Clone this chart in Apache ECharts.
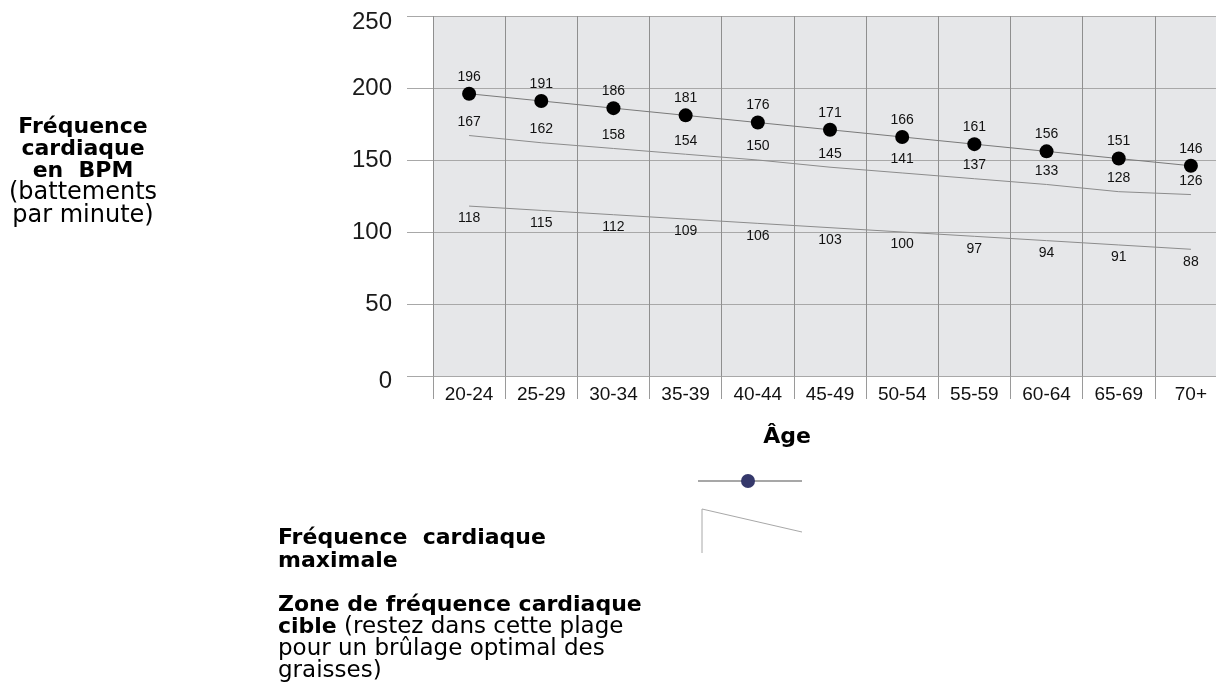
<!DOCTYPE html>
<html>
<head>
<meta charset="utf-8">
<script src="https://cdn.jsdelivr.net/npm/echarts@6/dist/echarts.min.js"></script>
<style>
html,body{margin:0;padding:0;background:#fff;}
#chart{width:1216px;height:683px;}
</style>
</head>
<body>
<div id="chart"></div>
<script>
const ageGroups = ['20-24','25-29','30-34','35-39','40-44','45-49','50-54','55-59','60-64','65-69','70+'];
const maxHeartRate = [196,191,186,181,176,171,166,161,156,151,146];
const targetUpper = [167,162,158,154,150,145,141,137,133,128,126];
const targetLower = [118,115,112,109,106,103,100,97,94,91,88];
const yTicks = [0,50,100,150,200,250];

const SANS = "'Liberation Sans', Arial, sans-serif";
const DJV = "'DejaVu Sans', sans-serif";

const chart = echarts.init(document.getElementById('chart'), null, {renderer:'canvas'});

function txt(text, x, y, bold, size, align) {
  return {
    type: 'text', x: x, y: y, silent: true,
    style: {
      text: text,
      fontFamily: DJV, fontSize: size, fontWeight: bold ? 'bold' : 'normal',
      fill: '#000', textAlign: align || 'left', textVerticalAlign: 'middle'
    }
  };
}

const option = {
  backgroundColor: '#ffffff',
  animation: false,
  grid: {
    left: 433, top: 16, right: -11, bottom: 307,
    show: true, backgroundColor: '#e6e7e9', borderWidth: 0,
    outerBoundsMode: 'none', containLabel: false
  },
  xAxis: {
    type: 'category',
    data: ageGroups,
    boundaryGap: true,
    axisLine: {show: false},
    axisTick: {show: true, interval: 0, length: 23, lineStyle: {color: '#9a9a9a', width: 1}},
    axisLabel: {interval: 0, margin: 9, fontFamily: SANS, fontSize: 19, color: '#111'},
    splitLine: {show: true, interval: 0, lineStyle: {color: '#8f8f8f', width: 1}}
  },
  yAxis: {
    type: 'value',
    min: yTicks[0], max: yTicks[yTicks.length - 1], interval: 50,
    axisLine: {show: false},
    axisTick: {show: true, length: 26, lineStyle: {color: '#a8a8a8', width: 1}},
    axisLabel: {
      margin: 41, fontFamily: SANS, fontSize: 24, color: '#1a1a1a',
      formatter: function (v) {
        if (v === 0) return '{lo|' + v + '}';
        if (v === 250) return '{hi|' + v + '}';
        return String(v);
      },
      rich: {
        lo: {fontFamily: SANS, fontSize: 24, color: '#1a1a1a', padding: [10, 0, 0, 0]},
        hi: {fontFamily: SANS, fontSize: 24, color: '#1a1a1a', padding: [13, 0, 0, 0]}
      }
    },
    splitLine: {show: true, lineStyle: {color: '#a8a8a8', width: 1}}
  },
  series: [
    {
      name: 'Fréquence cardiaque maximale',
      type: 'line',
      data: maxHeartRate,
      symbol: 'circle', symbolSize: 14,
      itemStyle: {color: '#000'},
      lineStyle: {color: '#7a7a7a', width: 1},
      label: {show: true, position: 'top', distance: 3, fontFamily: SANS, fontSize: 14, color: '#111'},
      z: 5
    },
    {
      name: 'Zone cible haute',
      type: 'line',
      data: targetUpper,
      symbol: 'circle', symbolSize: 1,
      itemStyle: {color: 'rgba(0,0,0,0)'},
      lineStyle: {color: '#8c8c8c', width: 1},
      label: {show: true, position: 'top', distance: 6, fontFamily: SANS, fontSize: 14, color: '#111'}
    },
    {
      name: 'Zone cible basse',
      type: 'line',
      data: targetLower,
      symbol: 'circle', symbolSize: 1,
      itemStyle: {color: 'rgba(0,0,0,0)'},
      lineStyle: {color: '#8c8c8c', width: 1},
      label: {show: true, position: 'bottom', distance: 5, fontFamily: SANS, fontSize: 14, color: '#111'}
    }
  ],
  graphic: [
    txt('Fréquence', 83, 127, true, 22, 'center'),
    txt('cardiaque', 83, 149, true, 22, 'center'),
    txt('en  BPM', 83, 171, true, 22, 'center'),
    txt('(battements', 83, 193, false, 24, 'center'),
    txt('par minute)', 83, 216, false, 24, 'center'),
    txt('Âge', 787, 437, true, 22, 'center'),
    txt('Fréquence  cardiaque', 278, 538, true, 22),
    txt('maximale', 278, 561, true, 22),
    txt('Zone de fréquence cardiaque', 278, 605, true, 22),
    {
      type: 'text', x: 278, y: 627, silent: true,
      style: {
        text: '{b|cible} (restez dans cette plage',
        fontFamily: DJV, fontSize: 23, fill: '#000', textVerticalAlign: 'middle',
        rich: {b: {fontFamily: DJV, fontSize: 22, fontWeight: 'bold', fill: '#000'}}
      }
    },
    txt('pour un brûlage optimal des', 278, 649, false, 23),
    txt('graisses)', 278, 671, false, 23),
    {type: 'line', silent: true, shape: {x1: 698, y1: 481, x2: 802, y2: 481}, style: {stroke: '#8a8a8a', lineWidth: 1.5}},
    {type: 'circle', silent: true, shape: {cx: 748, cy: 481, r: 7}, style: {fill: '#35386b'}},
    {type: 'polyline', silent: true, shape: {points: [[702, 553], [702, 509], [802, 532]]}, style: {stroke: '#a8a8a8', lineWidth: 1, fill: null}}
  ]
};
chart.setOption(option);
</script>
</body>
</html>
